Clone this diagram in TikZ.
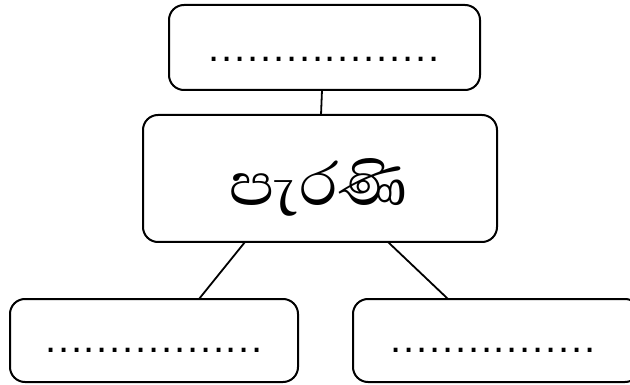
\documentclass[tikz,border=0pt]{standalone}
\usepackage{fontspec}
\newfontfamily\sinhalafont[Script=Sinhala]{Abhaya Libre}
\newfontfamily\dotfont{Liberation Sans}
\def\sd#1{\ifx#1\relax\else\makebox[12.9pt]{#1}\expandafter\sd\fi}
\begin{document}
\begin{tikzpicture}[x=1pt,y=-1pt,
  box/.style={draw,line width=2pt,rounded corners=15pt},
  link/.style={line width=1.8pt},
  dots/.style={font=\dotfont\fontsize{40}{40}\selectfont,inner sep=0pt,anchor=base}]
\useasboundingbox (0,0) rectangle (630,385);
\draw[box] (169,5) rectangle (480,90);
\draw[box] (143,115) rectangle (497,242);
\draw[box] (10,299) rectangle (298,382);
\draw[box] (353,299) rectangle (640,382);
\coordinate (topB) at (322,90);
\coordinate (midT) at (321,115);
\coordinate (midBL) at (245,242);
\coordinate (midBR) at (388,242);
\coordinate (blT) at (199,299);
\coordinate (brT) at (448,299);
\draw[link] (topB) -- (midT);
\draw[link] (midBL) -- (blT);
\draw[link] (midBR) -- (brT);
\node[dots] (t1) at (324,62) {\sd..................\relax};
\node[dots] (t2) at (154,352) {\sd.................\relax};
\node[dots] (t3) at (493,352) {\sd................\relax};
\node[font=\sinhalafont\fontsize{77}{77}\selectfont,inner sep=0pt] (c) at (319,187) {පැරණි};
\end{tikzpicture}
\end{document}
